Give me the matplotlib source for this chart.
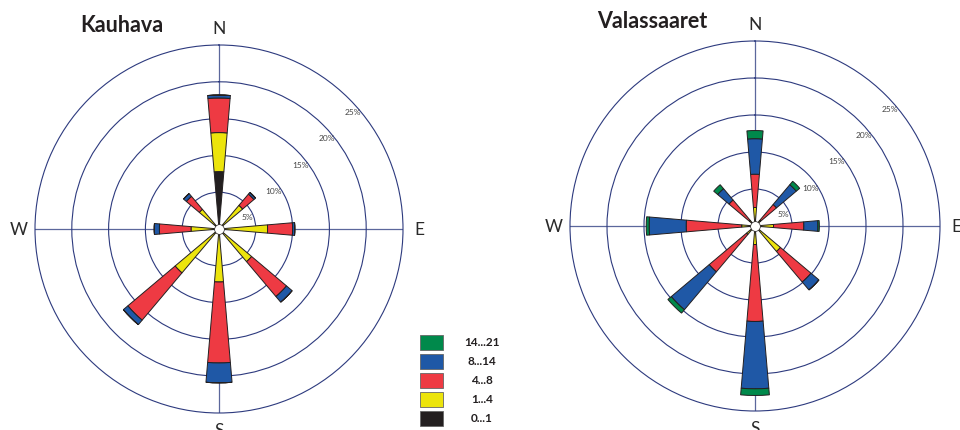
import numpy as np
import matplotlib.pyplot as plt
from matplotlib.patches import Rectangle

plt.rcParams["font.family"] = ["Lato", "DejaVu Sans"]

# suunnat myötäpäivään pohjoisesta, arvot = osuus ajasta (%)
DIRS = ["N", "NE", "E", "SE", "S", "SW", "W", "NW"]
CLASSES = ["0...1", "1...4", "4...8", "8...14", "14...21"]
COLORS = ["#231f20", "#ece40c", "#ee3a43", "#1f58a6", "#00894b"]
RINGS = [5, 10, 15, 20, 25]
RING_LABELS = ["5%", "10%", "15%", "20%", "25%"]

# Kauhava
kau_0_1 = [7.8, 0, 0, 0, 0, 0, 0, 0]
kau_1_4 = [5.3, 4.2, 6.6, 5.8, 7.2, 7.8, 3.8, 3.5]
kau_4_8 = [4.7, 2.0, 3.4, 6.2, 11.0, 8.4, 4.3, 2.3]
kau_8_14 = [0.4, 0.3, 0.3, 1.0, 2.7, 0.8, 0.7, 0.5]
kau_14_21 = [0, 0, 0, 0, 0, 0, 0, 0]

# Valassaaret
val_0_1 = [0, 0, 0, 0, 0, 0, 0, 0]
val_1_4 = [2.5, 1.0, 2.5, 4.5, 2.5, 1.5, 1.8, 1.0]
val_4_8 = [4.5, 2.8, 4.1, 5.4, 10.4, 6.6, 7.5, 3.6]
val_8_14 = [4.8, 3.5, 1.9, 1.4, 9.1, 6.7, 5.0, 2.0]
val_14_21 = [1.1, 0.6, 0.2, 0.0, 0.9, 0.6, 0.4, 0.7]

GRID = "#2d3a7e"
EDGE = "#231f20"


def rose(ax, layers):
    theta = np.deg2rad(np.arange(len(DIRS)) * 45.0)
    ax.set_theta_zero_location("N")
    ax.set_theta_direction(-1)
    bottom = np.zeros(len(DIRS))
    for vals, col in zip(layers, COLORS):
        vals = np.asarray(vals, dtype=float)
        ax.bar(theta, vals, width=0.17, bottom=bottom, color=col,
               edgecolor=EDGE, linewidth=0.7, zorder=3)
        bottom += vals
    ax.plot(0, 0, "o", ms=7, mfc="white", mec=EDGE, mew=0.5, zorder=5)
    ax.set_ylim(0, 25)
    ax.set_rgrids(RINGS[:-1], labels=[""] * 4)
    ax.set_thetagrids([0, 90, 180, 270], ["N", "E", "S", "W"],
                      fontsize=12.5, color="#2a2a2a")
    ax.tick_params(axis="x", pad=1.5)
    ax.grid(True, color=GRID, linewidth=0.8)
    ax.xaxis.grid(True, color="#5b679c", linewidth=0.9)
    ax.spines["polar"].set_color(GRID)
    ax.spines["polar"].set_linewidth(0.8)
    ax.set_facecolor("white")
    # rengasnimet vinossa rivissä koilliseen
    for i, lab in enumerate(RING_LABELS):
        x = 3.85 + 3.6 * i
        y = 1.72 + 3.55 * i
        ax.text(np.arctan2(x, y), np.hypot(x, y), lab, fontsize=6,
                color="#444444", ha="center", va="center", zorder=6)


fig = plt.figure(figsize=(9.6, 4.31), dpi=100)
ax1 = fig.add_axes([35 / 960, 17 / 431, 368 / 960, 368 / 431], projection="polar")
ax2 = fig.add_axes([570 / 960, 19 / 431, 370 / 960, 370 / 431], projection="polar")
rose(ax1, [kau_0_1, kau_1_4, kau_4_8, kau_8_14, kau_14_21])
rose(ax2, [val_0_1, val_1_4, val_4_8, val_8_14, val_14_21])

fig.text(80 / 960, 1 - 26 / 431, "Kauhava", fontsize=15.5, fontweight="bold",
         color="#231f20", ha="left", va="center")
fig.text(597 / 960, 1 - 21 / 431, "Valassaaret", fontsize=15.5, fontweight="bold",
         color="#231f20", ha="left", va="center")

# selite
for k, (lab, col) in enumerate(zip(CLASSES[::-1], COLORS[::-1])):
    yc = 343 + 19 * k
    fig.patches.append(Rectangle((420 / 960, 1 - (yc + 7.5) / 431), 23 / 960, 15 / 431,
                                 transform=fig.transFigure, facecolor=col,
                                 edgecolor="#666666", linewidth=0.6))
    fig.text(482 / 960, 1 - yc / 431, lab, fontsize=8.5, fontweight="bold",
             color="#231f20", ha="center", va="center")

fig.savefig("out.png", dpi=100)
